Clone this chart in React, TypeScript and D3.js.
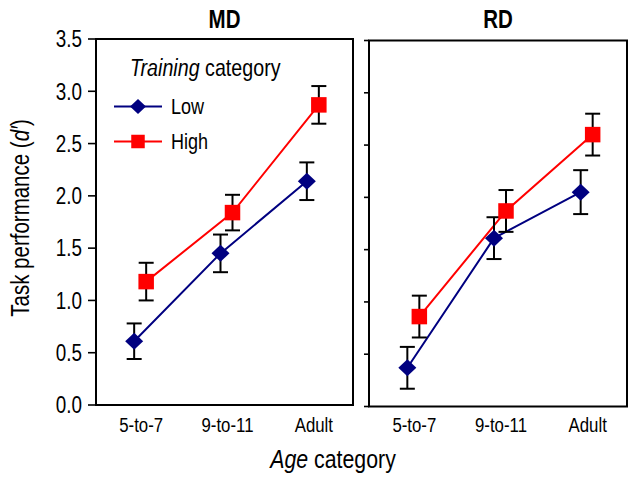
import React from "react";
import * as d3 from "d3";

const categories = ["5-to-7", "9-to-11", "Adult"];
const yTicks = [0, 0.5, 1.0, 1.5, 2.0, 2.5, 3.0, 3.5];

const mdLow = [0.61, 1.45, 2.14];
const mdLowSe = [0.17, 0.18, 0.18];
const mdHigh = [1.18, 1.84, 2.87];
const mdHighSe = [0.18, 0.17, 0.18];

const rdLow = [0.37, 1.61, 2.05];
const rdLowSe = [0.2, 0.2, 0.21];
const rdHigh = [0.86, 1.87, 2.6];
const rdHighSe = [0.2, 0.2, 0.2];

const LOW = "#000080";
const HIGH = "#ff0000";
const FONT = "'Liberation Sans', Arial, Helvetica, sans-serif";
const SX = 0.82; // narrow (Arial Narrow-like) glyphs

function T({
  x, y, size, anchor = "start", bold = false, rotate = 0, dy, children,
}: {
  x: number; y: number; size: number; anchor?: string; bold?: boolean; rotate?: number; dy?: string; children: React.ReactNode;
}) {
  return (
    <text
      transform={`translate(${x},${y}) rotate(${rotate}) scale(${SX},1)`}
      textAnchor={anchor as any}
      dy={dy}
      fontFamily={FONT}
      fontSize={size}
      fontWeight={bold ? "bold" : "normal"}
    >
      {children}
    </text>
  );
}

function diamondPath(cx: number, cy: number, w: number, h: number) {
  return `M${cx},${cy - h / 2}L${cx + w / 2},${cy}L${cx},${cy + h / 2}L${cx - w / 2},${cy}Z`;
}

type Series = { values: number[]; se: number[]; color: string; shape: "diamond" | "square"; off: number };

function Panel({
  left, right, top, bottom, title, series, showLabels, tickLen,
}: {
  left: number; right: number; top: number; bottom: number; title: string;
  series: Series[]; showLabels: boolean; tickLen: number;
}) {
  const y = d3.scaleLinear().domain([0, 3.5]).range([bottom, top]);
  const x = d3.scalePoint<string>().domain(categories).range([left + 1, right + 3]).padding(0.5);
  const line = d3.line<number>().x((_, i) => x(categories[i])!).y((v) => y(v));
  const cx = (left + right) / 2;
  return (
    <g>
      <T x={cx} y={28} size={25} anchor="middle" bold>{title}</T>
      {yTicks.map((t) => (
        <g key={t}>
          <line x1={left - tickLen} x2={left} y1={y(t)} y2={y(t)} stroke="#000" strokeWidth={1.6} />
          {showLabels && (
            <T x={left - tickLen - 6} y={y(t)} dy="0.36em" size={23} anchor="end">{t.toFixed(1)}</T>
          )}
        </g>
      ))}
      {categories.map((c) => (
        <T key={c} x={x(c)! + 1} y={432} size={20.5} anchor="middle">{c}</T>
      ))}
      {series.map((s, k) => (
        <path key={"l" + k} d={line.x((_, i) => x(categories[i])! + s.off)(s.values)!} fill="none" stroke={s.color} strokeWidth={2} />
      ))}
      {series.map((s, k) => (
        <g key={"e" + k}>
          {s.values.map((v, i) => {
            const px = x(categories[i])! + s.off;
            const y1 = y(v - s.se[i]);
            const y2 = y(v + s.se[i]);
            return (
              <g key={i}>
                <line x1={px} x2={px} y1={y1} y2={y2} stroke="#000" strokeWidth={2} />
                <line x1={px - 7.5} x2={px + 7.5} y1={y1} y2={y1} stroke="#000" strokeWidth={2} />
                <line x1={px - 7.5} x2={px + 7.5} y1={y2} y2={y2} stroke="#000" strokeWidth={2} />
              </g>
            );
          })}
        </g>
      ))}
      {series.map((s, k) => (
        <g key={"m" + k}>
          {s.values.map((v, i) => {
            const px = x(categories[i])! + s.off;
            const py = y(v);
            return s.shape === "diamond" ? (
              <path key={i} d={diamondPath(px, py, 18, 17)} fill={s.color} />
            ) : (
              <rect key={i} x={px - 7.75} y={py - 7.75} width={15.5} height={15.5} fill={s.color} />
            );
          })}
        </g>
      ))}
      <rect x={left} y={top} width={right - left} height={bottom - top} fill="none" stroke="#000" strokeWidth={2} />
    </g>
  );
}

export default function App() {
  return (
    <svg width={637} height={479} style={{ position: "absolute", left: 0, top: 0, background: "#fff" }}>
      <rect x={0} y={0} width={637} height={479} fill="#fff" />
      <Panel
        left={96} right={353} top={39} bottom={405} title="MD" showLabels tickLen={8}
        series={[
          { values: mdLow, se: mdLowSe, color: LOW, shape: "diamond", off: -6 },
          { values: mdHigh, se: mdHighSe, color: HIGH, shape: "square", off: 6 },
        ]}
      />
      <Panel
        left={369} right={627} top={40.5} bottom={406.5} title="RD" showLabels={false} tickLen={5}
        series={[
          { values: rdLow, se: rdLowSe, color: LOW, shape: "diamond", off: -6 },
          { values: rdHigh, se: rdHighSe, color: HIGH, shape: "square", off: 6 },
        ]}
      />
      {/* legend */}
      <T x={130} y={76} size={24}>
        <tspan fontStyle="italic">Training</tspan> category
      </T>
      <line x1={114} x2={162} y1={106.5} y2={106.5} stroke={LOW} strokeWidth={2} />
      <path d={diamondPath(138, 106.5, 16, 15)} fill={LOW} />
      <T x={171} y={114} size={22}>Low</T>
      <line x1={114} x2={162} y1={141.5} y2={141.5} stroke={HIGH} strokeWidth={2} />
      <rect x={131.25} y={134.75} width={13.5} height={13.5} fill={HIGH} />
      <T x={171} y={149} size={22}>High</T>
      {/* axis titles */}
      <T x={29} y={218} rotate={-90} size={25} anchor="middle">
        Task performance (<tspan fontStyle="italic">d′</tspan>)
      </T>
      <T x={333} y={468} size={26} anchor="middle">
        <tspan fontStyle="italic">Age</tspan> category
      </T>
    </svg>
  );
}
